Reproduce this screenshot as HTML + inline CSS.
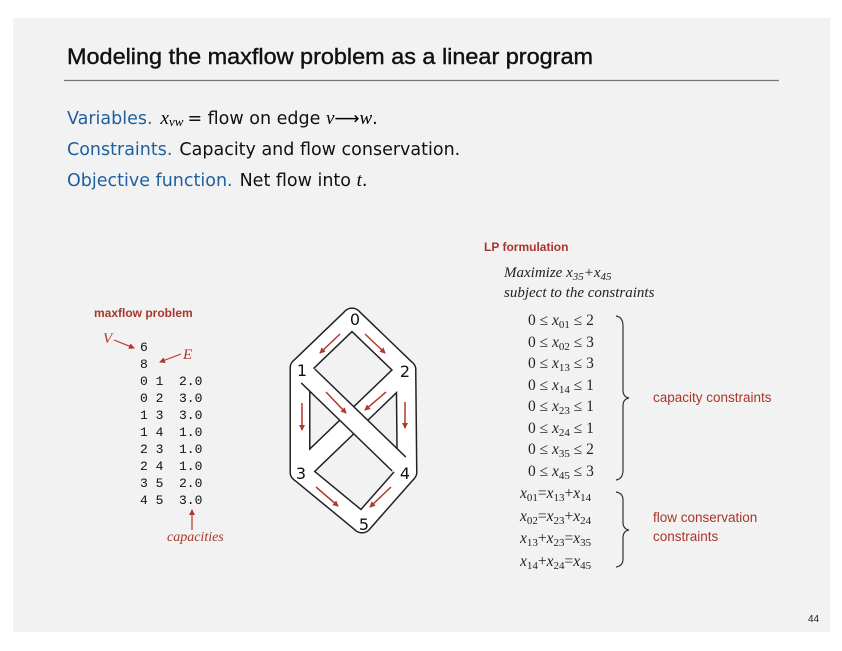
<!DOCTYPE html>
<html><head><meta charset="utf-8"><style>
html,body{margin:0;padding:0;background:#fff;}
svg{display:block;}
.s{font-family:"Liberation Sans",sans-serif;}
.d{font-family:"DejaVu Sans",sans-serif;}
.r{font-family:"Liberation Serif",serif;font-style:italic;}
.m{font-family:"Liberation Mono",monospace;}
</style></head><body>
<svg width="842" height="651" viewBox="0 0 842 651" xmlns="http://www.w3.org/2000/svg">
<defs>
<marker id="ah" markerWidth="6" markerHeight="6" refX="5" refY="3" orient="auto" markerUnits="userSpaceOnUse"><path d="M0,0 L6,3 L0,6 z" fill="#b0392c"/></marker>
</defs>
<rect x="13" y="18" width="817" height="614" fill="#f2f2f2"/>
<text class="s" x="67" y="64" font-size="22" textLength="526" lengthAdjust="spacingAndGlyphs" fill="#111" stroke="#111" stroke-width="0.4">Modeling the maxflow problem as a linear program</text>
<line x1="64" y1="80.5" x2="779" y2="80.5" stroke="#777" stroke-width="1.2"/>

<text class="d" x="67" y="124" font-size="17.5"><tspan fill="#1f5f9f">Variables.</tspan><tspan font-family="Liberation Serif" font-style="italic" font-size="19" dx="8">x</tspan><tspan font-family="Liberation Serif" font-style="italic" font-size="13" dy="2">vw</tspan><tspan dy="-2" dx="4" fill="#111">= flow on edge </tspan><tspan font-family="Liberation Serif" font-style="italic" font-size="19">v</tspan><tspan>⟶</tspan><tspan font-family="Liberation Serif" font-style="italic" font-size="19">w</tspan><tspan>.</tspan></text>
<text class="d" x="67" y="155" font-size="17.5"><tspan fill="#1f5f9f">Constraints.</tspan><tspan dx="7" fill="#111">Capacity and flow conservation.</tspan></text>
<text class="d" x="67" y="186" font-size="17.5"><tspan fill="#1f5f9f">Objective function.</tspan><tspan dx="7" fill="#111">Net flow into </tspan><tspan font-family="Liberation Serif" font-style="italic" font-size="19">t</tspan><tspan>.</tspan></text>

<!-- maxflow problem -->
<text class="s" x="94" y="317" font-size="12" font-weight="bold" fill="#a8362b">maxflow problem</text>
<text class="r" x="103" y="343" font-size="15" fill="#a8362b">V</text>
<line x1="114" y1="340" x2="134" y2="348" stroke="#b0392c" stroke-width="1.2" marker-end="url(#ah)"/>
<text class="r" x="183" y="359" font-size="15" fill="#a8362b">E</text>
<line x1="181" y1="354" x2="160" y2="362" stroke="#b0392c" stroke-width="1.2" marker-end="url(#ah)"/>
<g class="m" font-size="13" fill="#111">
<text x="140" y="351">6</text>
<text x="140" y="368">8</text>
<text x="140" y="385" xml:space="preserve">0 1  2.0</text>
<text x="140" y="402" xml:space="preserve">0 2  3.0</text>
<text x="140" y="419" xml:space="preserve">1 3  3.0</text>
<text x="140" y="436" xml:space="preserve">1 4  1.0</text>
<text x="140" y="453" xml:space="preserve">2 3  1.0</text>
<text x="140" y="470" xml:space="preserve">2 4  1.0</text>
<text x="140" y="487" xml:space="preserve">3 5  2.0</text>
<text x="140" y="504" xml:space="preserve">4 5  3.0</text>
</g>
<line x1="192" y1="530" x2="192" y2="510" stroke="#b0392c" stroke-width="1.2" marker-end="url(#ah)"/>
<text class="r" x="167" y="541" font-size="14" fill="#a8362b">capacities</text>

<!-- graph -->
<g stroke-linecap="round" stroke-linejoin="round" fill="none">
<g stroke="#222" stroke-width="21">
<line x1="352" y1="318" x2="300" y2="368"/><line x1="352" y1="318" x2="406" y2="370"/>
<line x1="300" y1="368" x2="300" y2="472"/><line x1="406" y1="370" x2="407" y2="472"/>
<line x1="300" y1="472" x2="362" y2="523"/><line x1="407" y1="472" x2="362" y2="523"/>
<line x1="406" y1="370" x2="300" y2="472"/>
</g>
<g stroke="#fff" stroke-width="18">
<line x1="352" y1="318" x2="300" y2="368"/><line x1="352" y1="318" x2="406" y2="370"/>
<line x1="300" y1="368" x2="300" y2="472"/><line x1="406" y1="370" x2="407" y2="472"/>
<line x1="300" y1="472" x2="362" y2="523"/><line x1="407" y1="472" x2="362" y2="523"/>
<line x1="406" y1="370" x2="300" y2="472"/>
</g>
<line x1="308" y1="376" x2="399" y2="464" stroke="#222" stroke-width="21" stroke-linecap="butt"/>
<line x1="306" y1="374" x2="401" y2="466" stroke="#fff" stroke-width="18" stroke-linecap="butt"/>
</g>
<g fill="#fff">
<circle cx="352" cy="318" r="9"/><circle cx="300" cy="368" r="9"/><circle cx="406" cy="370" r="9"/>
<circle cx="300" cy="472" r="9"/><circle cx="407" cy="472" r="9"/><circle cx="362" cy="523" r="9"/>
</g>
<g class="d" font-size="16" fill="#111" text-anchor="middle">
<text x="355" y="325">0</text><text x="302" y="376">1</text><text x="405" y="377">2</text>
<text x="301" y="479">3</text><text x="405" y="479">4</text><text x="364" y="530">5</text>
</g>
<g stroke="#b0392c" stroke-width="1.5" marker-end="url(#ah)">
<line x1="340" y1="334" x2="320" y2="353"/>
<line x1="365" y1="334" x2="385" y2="353"/>
<line x1="302" y1="403" x2="302" y2="430"/>
<line x1="405" y1="402" x2="405" y2="428"/>
<line x1="326" y1="392" x2="346" y2="413"/>
<line x1="386" y1="392" x2="365" y2="410"/>
<line x1="316" y1="487" x2="338" y2="506"/>
<line x1="391" y1="487" x2="370" y2="507"/>
</g>

<!-- LP -->
<text class="s" x="484" y="251" font-size="12" font-weight="bold" fill="#a8362b">LP formulation</text>
<g class="r" font-size="15" fill="#222">
<text x="504" y="277">Maximize x<tspan font-size="11" dy="3">35</tspan><tspan dy="-3">+x</tspan><tspan font-size="11" dy="3">45</tspan></text>
<text x="504" y="297">subject to the constraints</text>
</g>
<g font-family="Liberation Serif" font-size="15.5" fill="#222">
<text x="528" y="325">0 ≤ <tspan font-style="italic">x</tspan><tspan font-size="11" dy="3">01</tspan><tspan dy="-3"> ≤ 2</tspan></text>
<text x="528" y="347">0 ≤ <tspan font-style="italic">x</tspan><tspan font-size="11" dy="3">02</tspan><tspan dy="-3"> ≤ 3</tspan></text>
<text x="528" y="368">0 ≤ <tspan font-style="italic">x</tspan><tspan font-size="11" dy="3">13</tspan><tspan dy="-3"> ≤ 3</tspan></text>
<text x="528" y="390">0 ≤ <tspan font-style="italic">x</tspan><tspan font-size="11" dy="3">14</tspan><tspan dy="-3"> ≤ 1</tspan></text>
<text x="528" y="411">0 ≤ <tspan font-style="italic">x</tspan><tspan font-size="11" dy="3">23</tspan><tspan dy="-3"> ≤ 1</tspan></text>
<text x="528" y="433">0 ≤ <tspan font-style="italic">x</tspan><tspan font-size="11" dy="3">24</tspan><tspan dy="-3"> ≤ 1</tspan></text>
<text x="528" y="454">0 ≤ <tspan font-style="italic">x</tspan><tspan font-size="11" dy="3">35</tspan><tspan dy="-3"> ≤ 2</tspan></text>
<text x="528" y="476">0 ≤ <tspan font-style="italic">x</tspan><tspan font-size="11" dy="3">45</tspan><tspan dy="-3"> ≤ 3</tspan></text>
<text x="520" y="498"><tspan font-style="italic">x</tspan><tspan font-size="11" dy="3">01</tspan><tspan dy="-3">=</tspan><tspan font-style="italic">x</tspan><tspan font-size="11" dy="3">13</tspan><tspan dy="-3">+</tspan><tspan font-style="italic">x</tspan><tspan font-size="11" dy="3">14</tspan></text>
<text x="520" y="521"><tspan font-style="italic">x</tspan><tspan font-size="11" dy="3">02</tspan><tspan dy="-3">=</tspan><tspan font-style="italic">x</tspan><tspan font-size="11" dy="3">23</tspan><tspan dy="-3">+</tspan><tspan font-style="italic">x</tspan><tspan font-size="11" dy="3">24</tspan></text>
<text x="520" y="543"><tspan font-style="italic">x</tspan><tspan font-size="11" dy="3">13</tspan><tspan dy="-3">+</tspan><tspan font-style="italic">x</tspan><tspan font-size="11" dy="3">23</tspan><tspan dy="-3">=</tspan><tspan font-style="italic">x</tspan><tspan font-size="11" dy="3">35</tspan></text>
<text x="520" y="566"><tspan font-style="italic">x</tspan><tspan font-size="11" dy="3">14</tspan><tspan dy="-3">+</tspan><tspan font-style="italic">x</tspan><tspan font-size="11" dy="3">24</tspan><tspan dy="-3">=</tspan><tspan font-style="italic">x</tspan><tspan font-size="11" dy="3">45</tspan></text>
</g>
<g fill="none" stroke="#333" stroke-width="1.2">
<path d="M616,316 Q623,317 623,326 L623,390 Q623,397 629,398 Q623,399 623,406 L623,470 Q623,479 616,480"/>
<path d="M616,492 Q623,493 623,500 L623,522 Q623,529 629,530 Q623,531 623,538 L623,559 Q623,566 616,567"/>
</g>
<g class="s" font-size="13.5" fill="#a8362b">
<text x="653" y="402">capacity constraints</text>
<text x="653" y="522">flow conservation</text>
<text x="653" y="541">constraints</text>
</g>
<text class="s" x="808" y="622" font-size="10" fill="#222">44</text>
</svg>
</body></html>
